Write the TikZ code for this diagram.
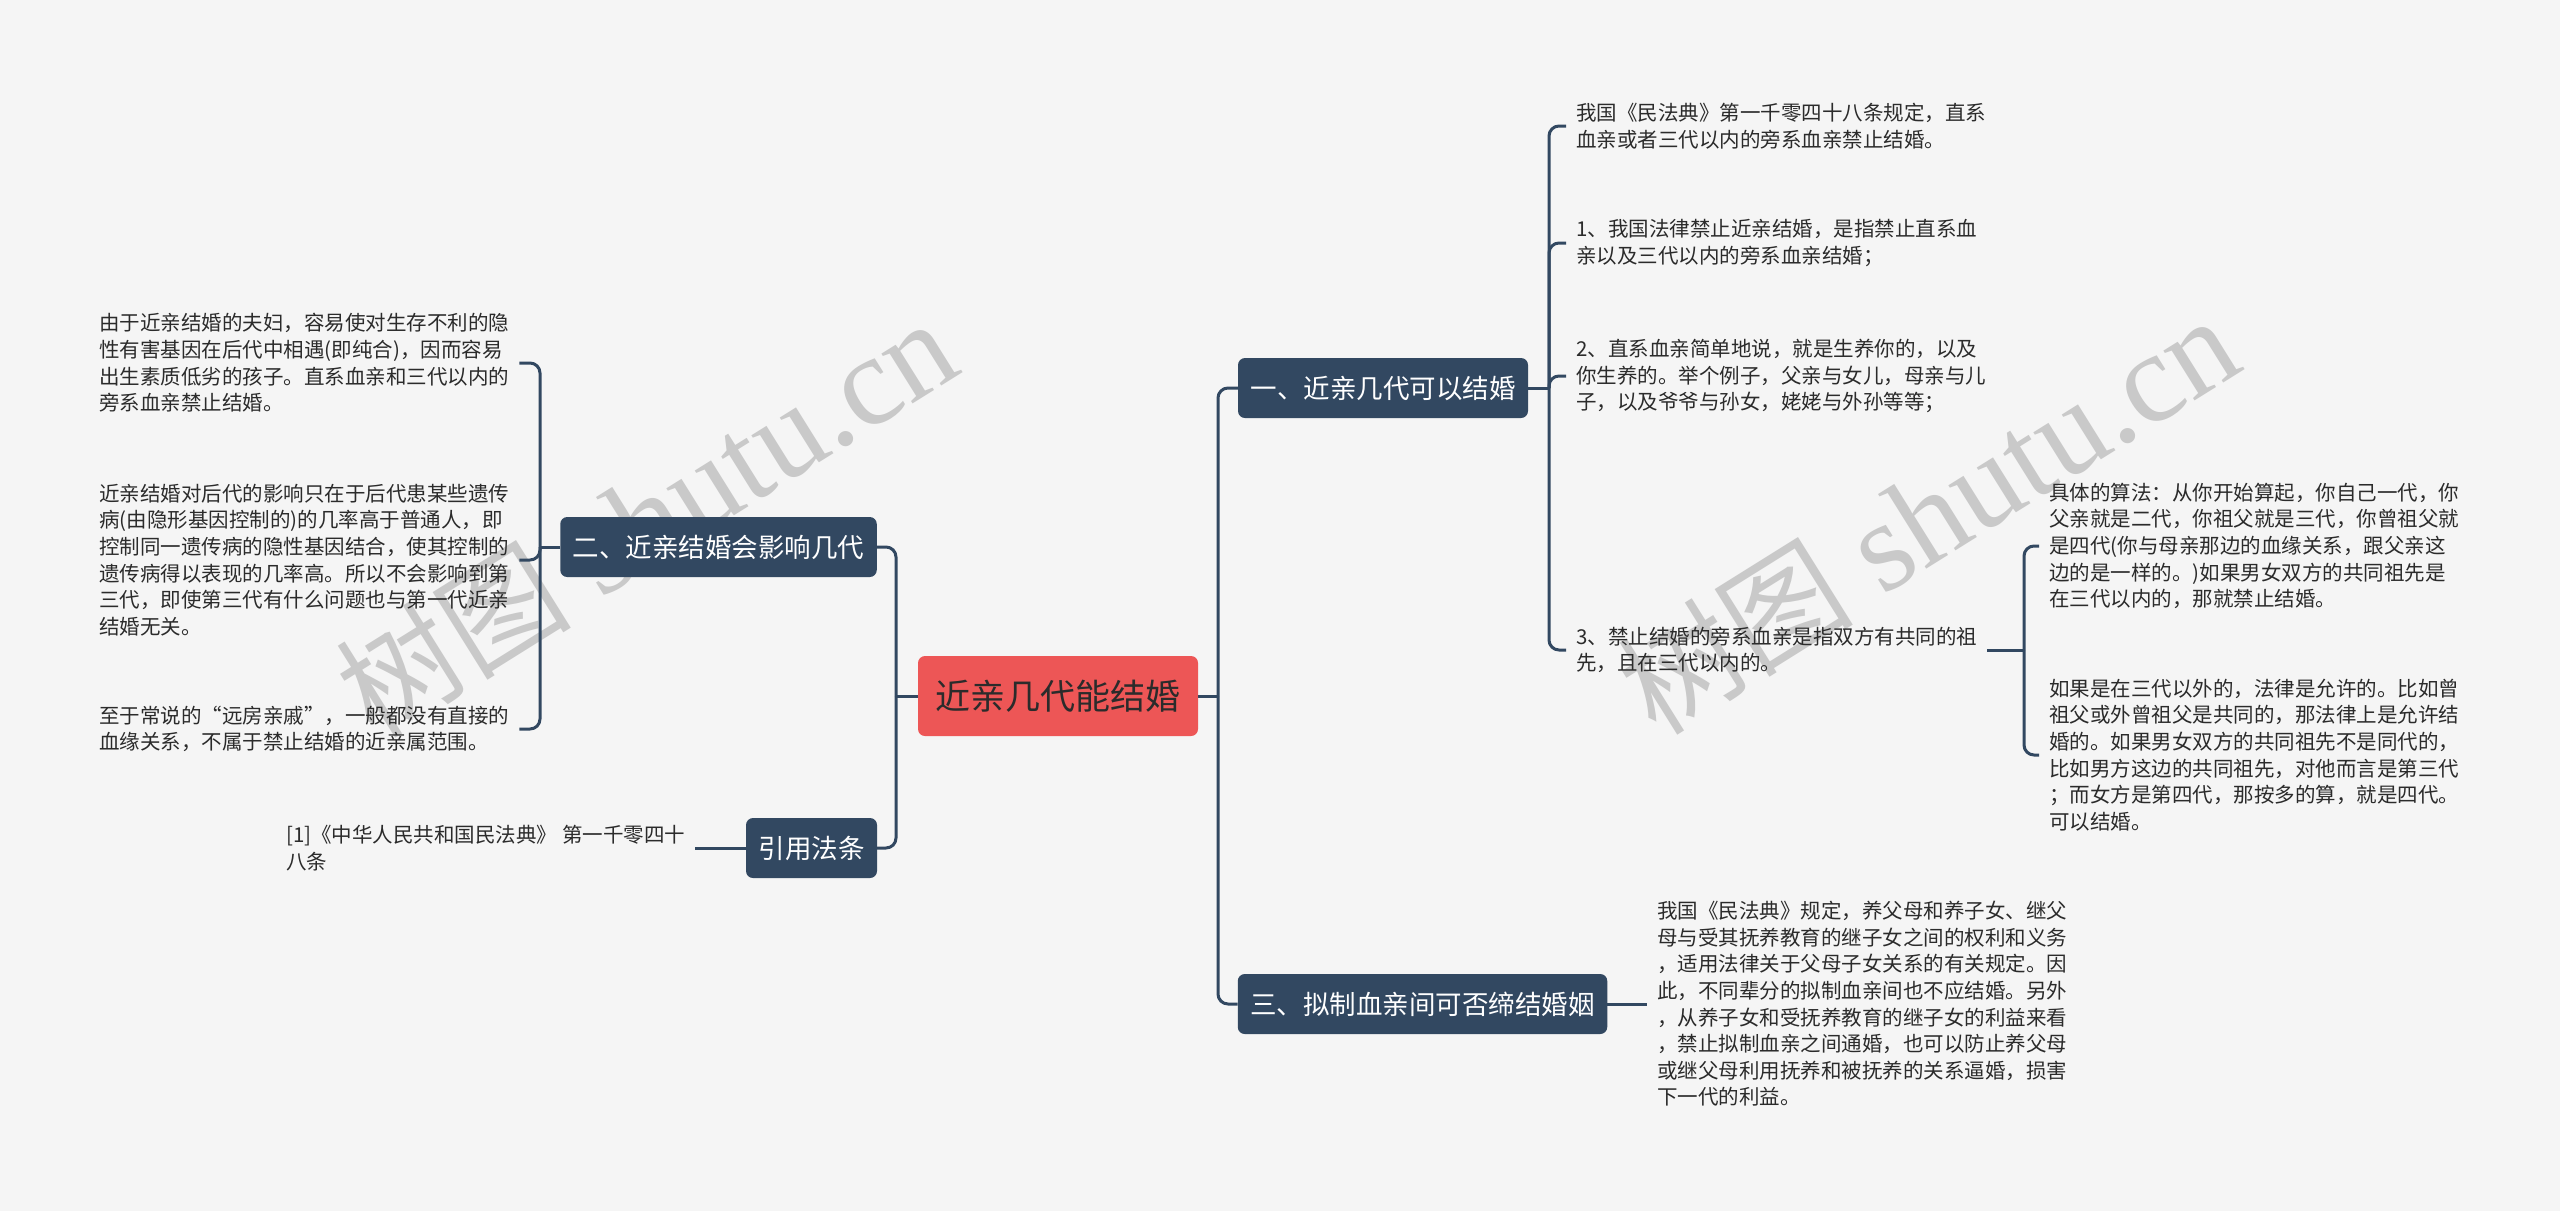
\documentclass[tikz,border=0pt]{standalone}
\usepackage{fontspec}
\setmainfont{Noto Sans CJK SC}
\newfontfamily\wmserif{Liberation Serif}
\newfontfamily\cjkf{Noto Sans CJK SC}
\definecolor{bgc}{HTML}{F5F5F5}
\definecolor{boxc}{HTML}{324861}
\definecolor{rootc}{HTML}{ED5656}
\definecolor{txtc}{HTML}{2B2B2B}
\definecolor{wmc}{HTML}{C9C9C9}
\tikzset{
  conn/.style={draw=boxc, line width=3pt},
  rc/.style={conn, rounded corners=10pt},
  leaf/.style={font=\fontsize{20.5pt}{26.6pt}\selectfont, text=txtc, align=left, inner xsep=10pt, inner ysep=0pt},
  mbox/.style={fill=boxc, rounded corners=7pt, text=white, font=\fontsize{26.5pt}{30pt}\selectfont, inner xsep=12.5pt, inner ysep=0pt, minimum height=60pt},
  rootbox/.style={fill=rootc, rounded corners=7pt, text=txtc, font=\fontsize{35pt}{40pt}\selectfont, inner sep=0pt, minimum width=280pt, minimum height=80pt},
  wmark/.style={text=wmc, rotate=32, inner sep=0pt}
}
\newcommand{\wmtext}{{\cjkf\fontsize{118pt}{128pt}\selectfont 树图}\hspace{30pt}{\wmserif\fontsize{128pt}{138pt}\selectfont shutu.cn}}
\begin{document}
\begin{tikzpicture}[x=1pt,y=-1pt]
\fill[bgc] (0,0) rectangle (2560,1211);
\useasboundingbox (0,0) rectangle (2560,1211);

% watermarks
\node[wmark] (wm1) at (646,518) {\wmtext};
\node[wmark] (wm2) at (1928,515) {\wmtext};

% main nodes
\node[rootbox] (root) at (1058,696) {近亲几代能结婚};
\node[mbox] (n1) at (1383,388) {一、近亲几代可以结婚};
\node[mbox] (n2) at (718.5,547) {二、近亲结婚会影响几代};
\node[mbox] (n3) at (1422.5,1004) {三、拟制血亲间可否缔结婚姻};
\node[mbox] (n4) at (811.5,848) {引用法条};

% leaves of n2
\node[leaf, anchor=west] (l1) at (89,363) {由于近亲结婚的夫妇，容易使对生存不利的隐\\性有害基因在后代中相遇(即纯合)，因而容易\\出生素质低劣的孩子。直系血亲和三代以内的\\旁系血亲禁止结婚。};
\node[leaf, anchor=west] (l2) at (89,560) {近亲结婚对后代的影响只在于后代患某些遗传\\病(由隐形基因控制的)的几率高于普通人，即\\控制同一遗传病的隐性基因结合，使其控制的\\遗传病得以表现的几率高。所以不会影响到第\\三代，即使第三代有什么问题也与第一代近亲\\结婚无关。};
\node[leaf, anchor=west] (l3) at (89,729) {至于常说的“远房亲戚”，一般都没有直接的\\血缘关系，不属于禁止结婚的近亲属范围。};

% leaf of n4
\node[leaf, anchor=west] (r1) at (276,848) {[1]《中华人民共和国民法典》 第一千零四十\\八条};

% leaves of n1
\node[leaf, anchor=west] (c1) at (1566,126) {我国《民法典》第一千零四十八条规定，直系\\血亲或者三代以内的旁系血亲禁止结婚。};
\node[leaf, anchor=west] (c2) at (1566,243) {1、我国法律禁止近亲结婚，是指禁止直系血\\亲以及三代以内的旁系血亲结婚；};
\node[leaf, anchor=west] (c3) at (1566,376) {2、直系血亲简单地说，就是生养你的，以及\\你生养的。举个例子，父亲与女儿，母亲与儿\\子，以及爷爷与孙女，姥姥与外孙等等；};
\node[leaf, anchor=west] (c4) at (1566,650) {3、禁止结婚的旁系血亲是指双方有共同的祖\\先，且在三代以内的。};

% leaves of c4
\node[leaf, anchor=west] (g1) at (2039,546) {具体的算法：从你开始算起，你自己一代，你\\父亲就是二代，你祖父就是三代，你曾祖父就\\是四代(你与母亲那边的血缘关系，跟父亲这\\边的是一样的。)如果男女双方的共同祖先是\\在三代以内的，那就禁止结婚。};
\node[leaf, anchor=west] (g2) at (2039,755) {如果是在三代以外的，法律是允许的。比如曾\\祖父或外曾祖父是共同的，那法律上是允许结\\婚的。如果男女双方的共同祖先不是同代的，\\比如男方这边的共同祖先，对他而言是第三代\\；而女方是第四代，那按多的算，就是四代。\\可以结婚。};

% leaf of n3
\node[leaf, anchor=west] (s1) at (1647,1004) {我国《民法典》规定，养父母和养子女、继父\\母与受其抚养教育的继子女之间的权利和义务\\，适用法律关于父母子女关系的有关规定。因\\此，不同辈分的拟制血亲间也不应结婚。另外\\，从养子女和受抚养教育的继子女的利益来看\\，禁止拟制血亲之间通婚，也可以防止养父母\\或继父母利用抚养和被抚养的关系逼婚，损害\\下一代的利益。};

% trunk coordinates
\coordinate (tL) at (896,696);
\coordinate (tR) at (1218,696);
\coordinate (t1) at (1549,388);
\coordinate (t2) at (540,547);
\coordinate (t4) at (2024,650);

% connectors
\draw[conn] (root.west) -- (tL);
\draw[rc] (tL) |- (n2.east);
\draw[rc] (tL) |- (n4.east);
\draw[conn] (root.east) -- (tR);
\draw[rc] (tR) |- (n1.west);
\draw[rc] (tR) |- (n3.west);

\draw[conn] (n1.east) -- (t1);
\draw[rc] (t1) |- (c1.west);
\draw[rc] (t1) |- (c2.west);
\draw[rc] (t1) |- (c3.west);
\draw[rc] (t1) |- (c4.west);

\draw[conn] (c4.east) -- (t4);
\draw[rc] (t4) |- (g1.west);
\draw[rc] (t4) |- (g2.west);

\draw[conn] (n2.west) -- (t2);
\draw[rc] (t2) |- (l1.east);
\draw[rc] (t2) |- (l2.east);
\draw[rc] (t2) |- (l3.east);

\draw[conn] (n4.west) -- (r1.east);
\draw[conn] (n3.east) -- (s1.west);
\end{tikzpicture}
\end{document}
